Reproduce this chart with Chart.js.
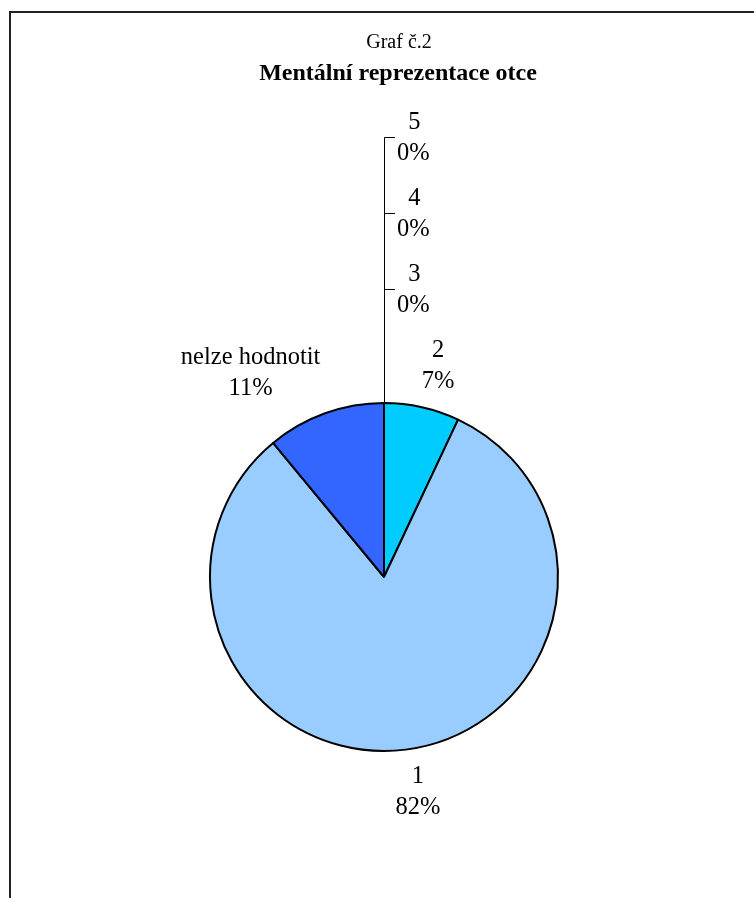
<!DOCTYPE html>
<html>
<head>
<meta charset="utf-8">
<script src="https://cdn.jsdelivr.net/npm/chart.js@4/dist/chart.umd.min.js"></script>
<style>
html,body{margin:0;padding:0;background:#fff;}
#wrap{position:relative;width:754px;height:898px;overflow:hidden;}
#frame{position:absolute;left:9px;top:11px;width:800px;height:900px;border-left:2px solid #222;border-top:2px solid #222;pointer-events:none;}
canvas{position:absolute;left:0;top:0;}
</style>
</head>
<body>
<div id="wrap">
<canvas id="c" width="754" height="898"></canvas>
<div id="frame"></div>
</div>
<script>
const categories = ['5', '4', '3', '2', '1', 'nelze hodnotit'];
const percentValues = [0, 0, 0, 7, 82, 11];
const sliceColors = ['#FFFFFF', '#FFFFFF', '#FFFFFF', '#00CCFF', '#99CCFF', '#3366FF'];
const chartSubtitle = 'Graf č.2';
const chartTitle = 'Mentální reprezentace otce';

const FONT = '"Liberation Serif", "Times New Roman", serif';

const labelPlugin = {
  id: 'excelLabels',
  afterDatasetsDraw(chart) {
    const ctx = chart.ctx;
    const meta = chart.getDatasetMeta(0);
    const data = chart.data.datasets[0].data;
    const total = data.reduce((a, b) => a + b, 0);
    ctx.save();
    // titles
    ctx.fillStyle = '#000';
    ctx.textAlign = 'center';
    ctx.textBaseline = 'middle';
    ctx.font = '20px ' + FONT;
    ctx.fillText(chartSubtitle, 399, 43);
    ctx.font = 'bold 24px ' + FONT;
    ctx.fillText(chartTitle, 398, 74);

    ctx.font = '24.5px ' + FONT;
    const lineH = 31;
    const zeroIdx = [];
    data.forEach((v, i) => { if (v === 0) zeroIdx.push(i); });

    meta.data.forEach((arc, i) => {
      const p = arc.getProps(['x', 'y', 'startAngle', 'endAngle', 'outerRadius'], true);
      const lines = [chart.data.labels[i], Math.round(data[i] / total * 100) + '%'];
      const w = Math.max(...lines.map(t => ctx.measureText(t).width));
      const h = lines.length * lineH - 6;
      if (data[i] === 0) {
        const k = zeroIdx.length - 1 - zeroIdx.indexOf(i);
        const topY = p.y - p.outerRadius;
        const tickY = topY - 114 - 76 * k;
        ctx.strokeStyle = '#000';
        ctx.lineWidth = 1;
        ctx.beginPath();
        ctx.moveTo(p.x + 0.5, topY);
        ctx.lineTo(p.x + 0.5, tickY + 0.5);
        ctx.lineTo(p.x + 11, tickY + 0.5);
        ctx.stroke();
        const cx = p.x + 13 + w / 2;
        ctx.fillText(lines[0], cx + 1, tickY - lineH / 2 + 1);
        ctx.fillText(lines[1], cx, tickY + lineH / 2 + 1);
        return;
      }
      const mid = (p.startAngle + p.endAngle) / 2;
      const d = p.outerRadius + 14;
      const ax = p.x + Math.cos(mid) * d;
      const ay = p.y + Math.sin(mid) * d;
      const sx = Math.max(-1, Math.min(1, Math.cos(mid) * 3.7));
      const sy = Math.max(-1, Math.min(1, Math.sin(mid) * 3.7));
      const cx = ax + sx * w / 2;
      const cy = ay + sy * h / 2;
      ctx.fillText(lines[0], cx, cy - lineH / 2 + 1);
      ctx.fillText(lines[1], cx, cy + lineH / 2 + 1);
    });
    ctx.restore();
  }
};

new Chart(document.getElementById('c'), {
  type: 'pie',
  data: {
    labels: categories,
    datasets: [{
      data: percentValues,
      backgroundColor: sliceColors,
      borderColor: '#000',
      borderWidth: 2,
      borderAlign: 'center'
    }]
  },
  options: {
    responsive: false,
    animation: false,
    rotation: 0,
    layout: { padding: { left: 200, right: 186, top: 402, bottom: 146 } },
    plugins: {
      legend: { display: false },
      tooltip: { enabled: false },
      title: { display: false }
    }
  },
  plugins: [labelPlugin]
});
</script>
</body>
</html>
